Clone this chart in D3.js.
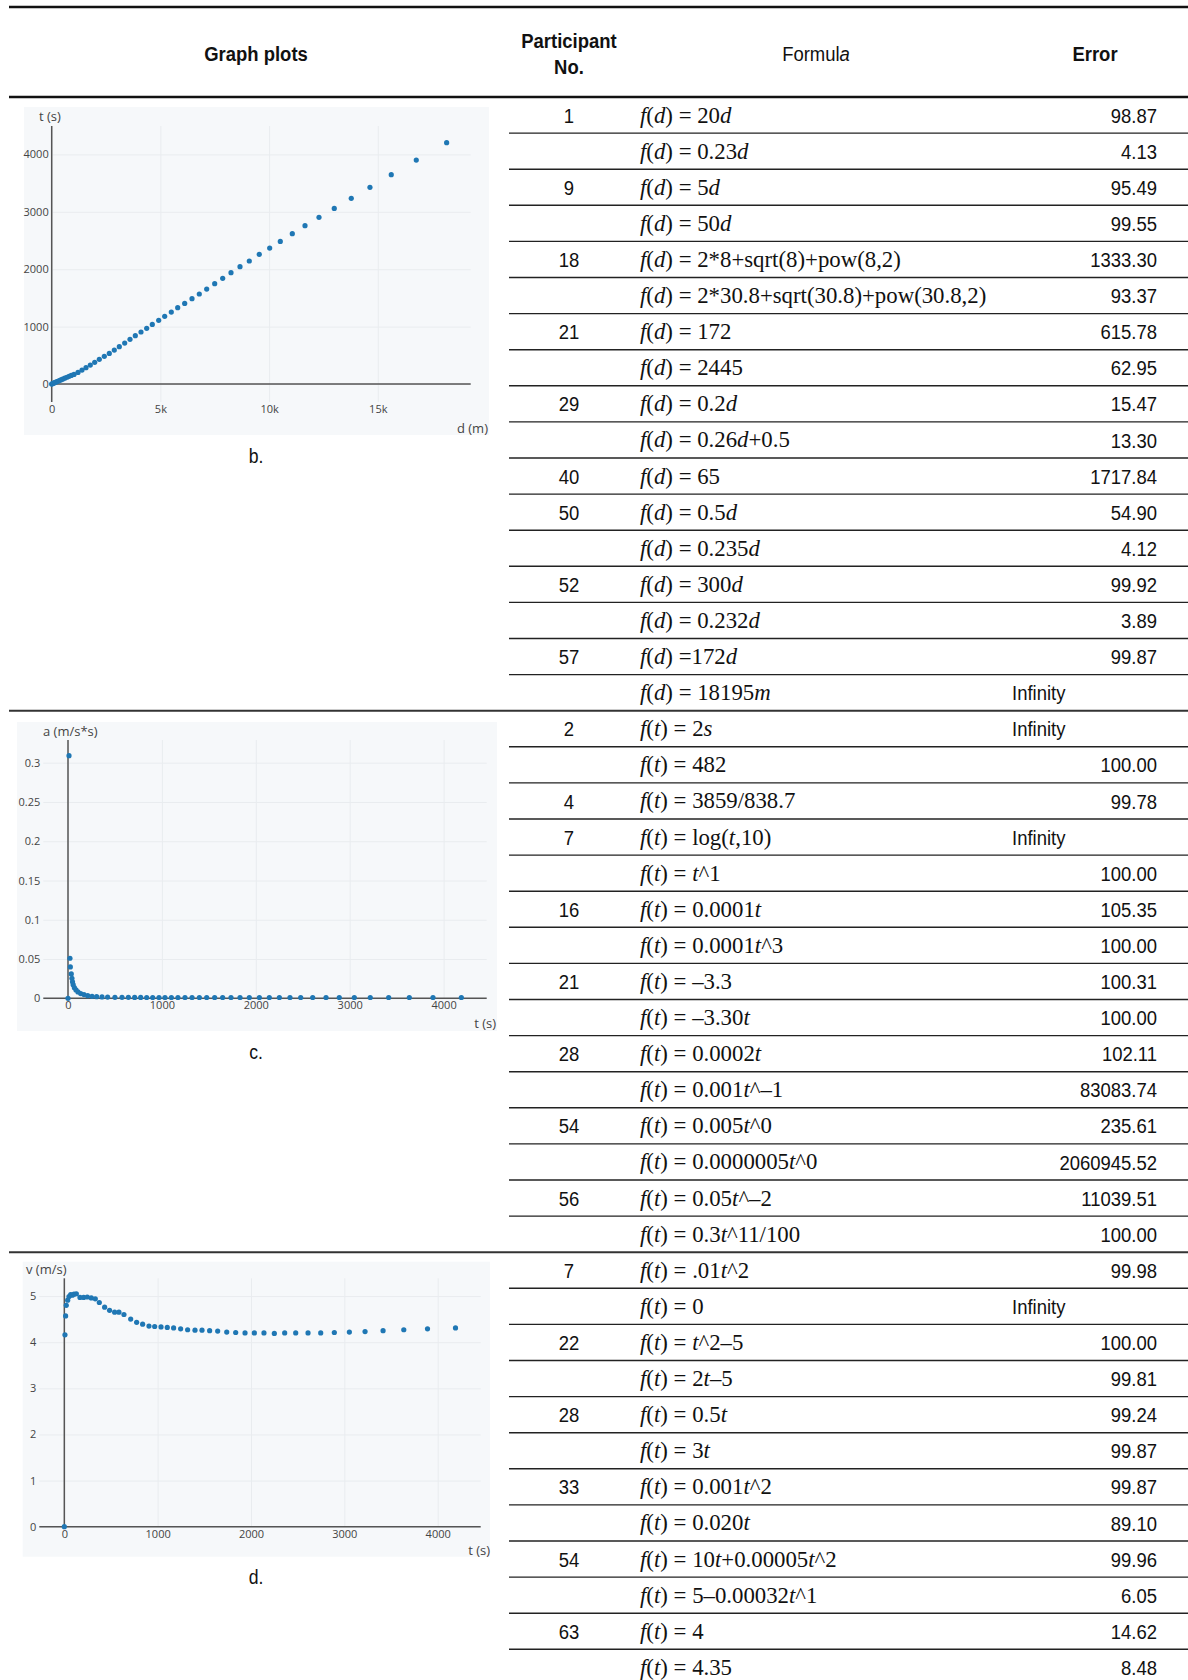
<!DOCTYPE html>
<html lang="en">
<head>
<meta charset="UTF-8">
<script src="https://cdn.jsdelivr.net/npm/d3@7"></script>
<style>
  html, body { margin: 0; padding: 0; background: #fff; }
  svg { display: block; }
</style>
</head>
<body>
<svg id="chart" width="1188" height="1680"></svg>
<script>
// ---------- table data ----------
var groupSizes = [17, 15, 12];
var participantNo = [
  "1", "", "9", "", "18", "", "21", "", "29", "", "40", "50", "", "52", "", "57", "",
  "2", "", "4", "7", "", "16", "", "21", "", "28", "", "54", "", "56", "",
  "7", "", "22", "", "28", "", "33", "", "54", "", "63", ""
];
var formulas = [
  "f(d) = 20d", "f(d) = 0.23d", "f(d) = 5d", "f(d) = 50d",
  "f(d) = 2*8+sqrt(8)+pow(8,2)", "f(d) = 2*30.8+sqrt(30.8)+pow(30.8,2)",
  "f(d) = 172", "f(d) = 2445", "f(d) = 0.2d", "f(d) = 0.26d+0.5", "f(d) = 65",
  "f(d) = 0.5d", "f(d) = 0.235d", "f(d) = 300d", "f(d) = 0.232d", "f(d) =172d", "f(d) = 18195m",
  "f(t) = 2s", "f(t) = 482", "f(t) = 3859/838.7", "f(t) = log(t,10)", "f(t) = t^1",
  "f(t) = 0.0001t", "f(t) = 0.0001t^3", "f(t) = –3.3", "f(t) = –3.30t", "f(t) = 0.0002t",
  "f(t) = 0.001t^–1", "f(t) = 0.005t^0", "f(t) = 0.0000005t^0", "f(t) = 0.05t^–2", "f(t) = 0.3t^11/100",
  "f(t) = .01t^2", "f(t) = 0", "f(t) = t^2–5", "f(t) = 2t–5", "f(t) = 0.5t", "f(t) = 3t",
  "f(t) = 0.001t^2", "f(t) = 0.020t", "f(t) = 10t+0.00005t^2", "f(t) = 5–0.00032t^1",
  "f(t) = 4", "f(t) = 4.35"
];
var errors = [
  "98.87", "4.13", "95.49", "99.55", "1333.30", "93.37", "615.78", "62.95", "15.47", "13.30",
  "1717.84", "54.90", "4.12", "99.92", "3.89", "99.87", "Infinity",
  "Infinity", "100.00", "99.78", "Infinity", "100.00", "105.35", "100.00", "100.31", "100.00",
  "102.11", "83083.74", "235.61", "2060945.52", "11039.51", "100.00",
  "99.98", "Infinity", "100.00", "99.81", "99.24", "99.87", "99.87", "89.10", "99.96", "6.05",
  "14.62", "8.48"
];
var headers = ["Graph plots", "Participant", "No.", "Formul", "Error"];

// ---------- plot b: t (s) against d (m) ----------
var distB = [0, 20, 60, 110, 160, 220, 280, 350, 420, 500, 600, 700, 800, 900, 1026, 1210, 1394, 1578,
  1776, 1978, 2190, 2420, 2650, 2880, 3110, 3358, 3602, 3846, 4108, 4370, 4628, 4922, 5198, 5502,
  5796, 6118, 6454, 6790, 7130, 7498, 7866, 8248, 8662, 9090, 9549, 10028, 10516, 11068, 11652,
  12296, 12999, 13781, 14641, 15621, 16771, 18169];
var timeB = [0, 3, 10, 19, 28, 38, 48, 60, 72, 85, 102, 118, 135, 150, 168, 203, 244, 285, 331, 378,
  430, 482, 534, 592, 650, 714, 778, 842, 906, 970, 1039, 1109, 1179, 1254, 1330, 1405, 1487, 1568,
  1655, 1748, 1841, 1940, 2044, 2143, 2259, 2369, 2485, 2619, 2758, 2904, 3060, 3235, 3426, 3647,
  3902, 4204];

// ---------- plot c: a (m/s*s) against t (s) ----------
var timeC = [0, 11, 21, 25, 35, 42, 48, 55, 68, 85, 106, 135, 170, 210, 256, 305, 362, 422, 500, 575,
  643, 710, 774, 838, 902, 969, 1033, 1101, 1171, 1246, 1321, 1399, 1477, 1562, 1647, 1736, 1832,
  1931, 2038, 2144, 2251, 2364, 2478, 2606, 2748, 2889, 3049, 3219, 3415, 3635, 3887, 4189];
var accelC = [0, 0.309, 0.051, 0.040, 0.031, 0.0255, 0.021, 0.0173, 0.0135, 0.0107, 0.0081, 0.006,
  0.0047, 0.0034, 0.0025, 0.0021, 0.0017, 0.0015, 0.0013, 0.0012, 0.0012, 0.0011, 0.0011, 0.001,
  0.001, 0.001, 0.001, 0.001, 0.001, 0.001, 0.001, 0.001, 0.001, 0.001, 0.001, 0.001, 0.001, 0.001,
  0.001, 0.001, 0.001, 0.001, 0.001, 0.001, 0.001, 0.001, 0.001, 0.001, 0.001, 0.001, 0.001, 0.001];

// ---------- plot d: v (m/s) against t (s) ----------
var timeD = [0, 7, 14, 21, 36, 50, 68, 86, 104, 129, 168, 207, 246, 289, 332, 375, 432, 485, 539, 585,
  639, 711, 775, 839, 907, 968, 1036, 1103, 1171, 1246, 1321, 1400, 1475, 1557, 1643, 1740, 1836,
  1936, 2036, 2139, 2250, 2361, 2479, 2611, 2747, 2893, 3054, 3222, 3415, 3637, 3891, 4191];
var speedD = [0, 4.16, 4.57, 4.80, 4.91, 4.99, 5.03, 5.02, 5.04, 5.05, 4.97, 4.97, 4.98, 4.96, 4.94,
  4.86, 4.76, 4.69, 4.65, 4.65, 4.60, 4.50, 4.43, 4.39, 4.35, 4.34, 4.33, 4.32, 4.31, 4.29, 4.27,
  4.26, 4.26, 4.25, 4.24, 4.22, 4.21, 4.20, 4.20, 4.20, 4.19, 4.20, 4.20, 4.20, 4.20, 4.21, 4.22,
  4.23, 4.25, 4.27, 4.29, 4.31];

var svg = d3.select("#chart");
var SANS = "'Liberation Sans', Arial, sans-serif";
var SERIF = "'Liberation Serif', 'Times New Roman', serif";
var PLOTLY = "'Open Sans', sans-serif";
var narrow = 0.88;   // the table font is a condensed Arial

function label(x, y, str, o) {
  o = o || {};
  return svg.append("text")
    .attr("transform", "translate(" + x + "," + y + ") scale(" + (o.sx || narrow) + ",1)")
    .attr("dy", "0.36em")
    .attr("text-anchor", o.anchor || "middle")
    .attr("font-family", o.family || SANS)
    .attr("font-size", o.size || 21)
    .attr("font-weight", o.bold ? "bold" : "normal")
    .attr("fill", "#111")
    .text(str);
}

// ---------- table ----------
var top0 = 97, rowH = 36.1;
var colNo = 569, colFormula = 640, colErr = 1157, colInf = 1012;

svg.append("line").attr("x1", 9).attr("x2", 1188).attr("y1", 7).attr("y2", 7)
  .attr("stroke", "#111").attr("stroke-width", 2.6);
svg.append("line").attr("x1", 9).attr("x2", 1188).attr("y1", top0).attr("y2", top0)
  .attr("stroke", "#111").attr("stroke-width", 2.6);

label(256, 53, headers[0], {bold: true});
label(colNo, 40, headers[1], {bold: true});
label(colNo, 66, headers[2], {bold: true});
var fh = label(816, 53, headers[3]);
fh.append("tspan").attr("font-style", "italic").text("a");
label(1095, 53, headers[4], {bold: true});

var ends = d3.cumsum(groupSizes);
formulas.forEach(function(f, i) {
  var cy = top0 + (i + 0.5) * rowH;
  if (participantNo[i]) label(colNo, cy, participantNo[i]);
  if (errors[i] === "Infinity") label(colInf, cy, errors[i], {anchor: "start"});
  else label(colErr, cy, errors[i], {anchor: "end"});

  // single letters are variables and go in italics
  var runs = [];
  for (var k = 0; k < f.length; k++) {
    var c = f[k];
    var it = /[a-z]/.test(c) && !/[a-z]/.test(f[k - 1] || "") && !/[a-z]/.test(f[k + 1] || "");
    if (runs.length && runs[runs.length - 1].it === it) runs[runs.length - 1].s += c;
    else runs.push({s: c, it: it});
  }
  svg.append("text")
    .attr("x", colFormula).attr("y", cy).attr("dy", "0.33em")
    .attr("font-family", SERIF).attr("font-size", 22.8).attr("fill", "#111")
    .attr("xml:space", "preserve")
    .selectAll("tspan").data(runs).join("tspan")
    .attr("font-style", function(d) { return d.it ? "italic" : "normal"; })
    .text(function(d) { return d.s; });

  var yl = top0 + (i + 1) * rowH;
  if (i === formulas.length - 1) return;
  if (ends.indexOf(i + 1) >= 0) {
    svg.append("line").attr("x1", 9).attr("x2", 1188).attr("y1", yl).attr("y2", yl)
      .attr("stroke", "#333").attr("stroke-width", 2);
  } else {
    svg.append("line").attr("x1", 509).attr("x2", 1188).attr("y1", yl).attr("y2", yl)
      .attr("stroke", "#222").attr("stroke-width", 1.4);
  }
});

// ---------- scatter plots ----------
function drawPlot(cfg, xs, ys) {
  var g = svg.append("g");
  g.append("rect").attr("x", cfg.bg[0]).attr("y", cfg.bg[1]).attr("width", cfg.bg[2]).attr("height", cfg.bg[3])
    .attr("fill", "#f6f8fa");

  var x = d3.scaleLinear().domain(cfg.xDomain).range([cfg.x0, cfg.x1]);
  var y = d3.scaleLinear().domain(cfg.yDomain).range([cfg.y1, cfg.y0]);

  var gx = g.append("g").attr("transform", "translate(0," + cfg.y1 + ")")
    .call(d3.axisBottom(x).tickValues(cfg.xTicks).tickFormat(cfg.xFmt)
      .tickSize(-(cfg.y1 - cfg.y0)).tickPadding(3));
  var gy = g.append("g").attr("transform", "translate(" + cfg.x0 + ",0)")
    .call(d3.axisLeft(y).tickValues(cfg.yTicks).tickFormat(cfg.yFmt)
      .tickSize(-(cfg.x1 - cfg.x0)).tickPadding(3));
  [gx, gy].forEach(function(a) {
    a.select(".domain").remove();
    a.selectAll(".tick line").attr("stroke", "#e9ecef").attr("stroke-width", 1);
    a.selectAll(".tick text").attr("font-family", PLOTLY).attr("font-size", 11).attr("fill", "#444");
  });

  // zero lines
  g.append("line").attr("x1", x(0)).attr("x2", x(0)).attr("y1", cfg.y0).attr("y2", cfg.y1)
    .attr("stroke", "#555").attr("stroke-width", 1.5);
  g.append("line").attr("x1", cfg.x0).attr("x2", cfg.x1).attr("y1", y(0)).attr("y2", y(0))
    .attr("stroke", "#555").attr("stroke-width", 1.5);

  g.append("g").selectAll("circle").data(xs).join("circle")
    .attr("cx", function(d) { return x(d); })
    .attr("cy", function(d, i) { return y(ys[i]); })
    .attr("r", 2.6).attr("fill", "#1f77b4");

  g.append("text").attr("x", cfg.yTitle[0]).attr("y", cfg.yTitle[1]).attr("dy", "0.35em")
    .attr("font-family", PLOTLY).attr("font-size", 13).attr("fill", "#444").text(cfg.yTitle[2]);
  g.append("text").attr("x", cfg.xTitle[0]).attr("y", cfg.xTitle[1]).attr("dy", "0.35em")
    .attr("text-anchor", "end")
    .attr("font-family", PLOTLY).attr("font-size", 13).attr("fill", "#444").text(cfg.xTitle[2]);
  label(256, cfg.caption[1], cfg.caption[0], {size: 20});
}

var fmtInt = d3.format("d");

drawPlot({
  bg: [24, 107, 465, 328], x0: 51.7, x1: 470.7, y0: 126, y1: 402,
  xDomain: [0, 19275], yDomain: [-313, 4495],
  xTicks: [0, 5000, 10000, 15000], yTicks: [0, 1000, 2000, 3000, 4000],
  xFmt: function(d) { return d === 0 ? "0" : d / 1000 + "k"; }, yFmt: fmtInt,
  yTitle: [39, 116, "t (s)"], xTitle: [488, 428, "d (m)"], caption: ["b.", 456]
}, distB, timeB);

drawPlot({
  bg: [17, 722, 480, 309], x0: 43.3, x1: 486.7, y0: 740, y1: 998.3,
  xDomain: [-263, 4459], yDomain: [0, 0.3289],
  xTicks: [0, 1000, 2000, 3000, 4000], yTicks: [0, 0.05, 0.1, 0.15, 0.2, 0.25, 0.3],
  xFmt: fmtInt, yFmt: function(d) { return d === 0 ? "0" : d3.format(".2~f")(d); },
  yTitle: [43, 731, "a (m/s*s)"], xTitle: [496, 1023, "t (s)"], caption: ["c.", 1052]
}, timeC, accelC);

drawPlot({
  bg: [22.7, 1261.7, 467.3, 295], x0: 39.3, x1: 480.7, y0: 1278.3, y1: 1526.7,
  xDomain: [-268, 4461], yDomain: [0, 5.385],
  xTicks: [0, 1000, 2000, 3000, 4000], yTicks: [0, 1, 2, 3, 4, 5],
  xFmt: fmtInt, yFmt: fmtInt,
  yTitle: [26, 1269, "v (m/s)"], xTitle: [490, 1550, "t (s)"], caption: ["d.", 1577]
}, timeD, speedD);
</script>
</body>
</html>
